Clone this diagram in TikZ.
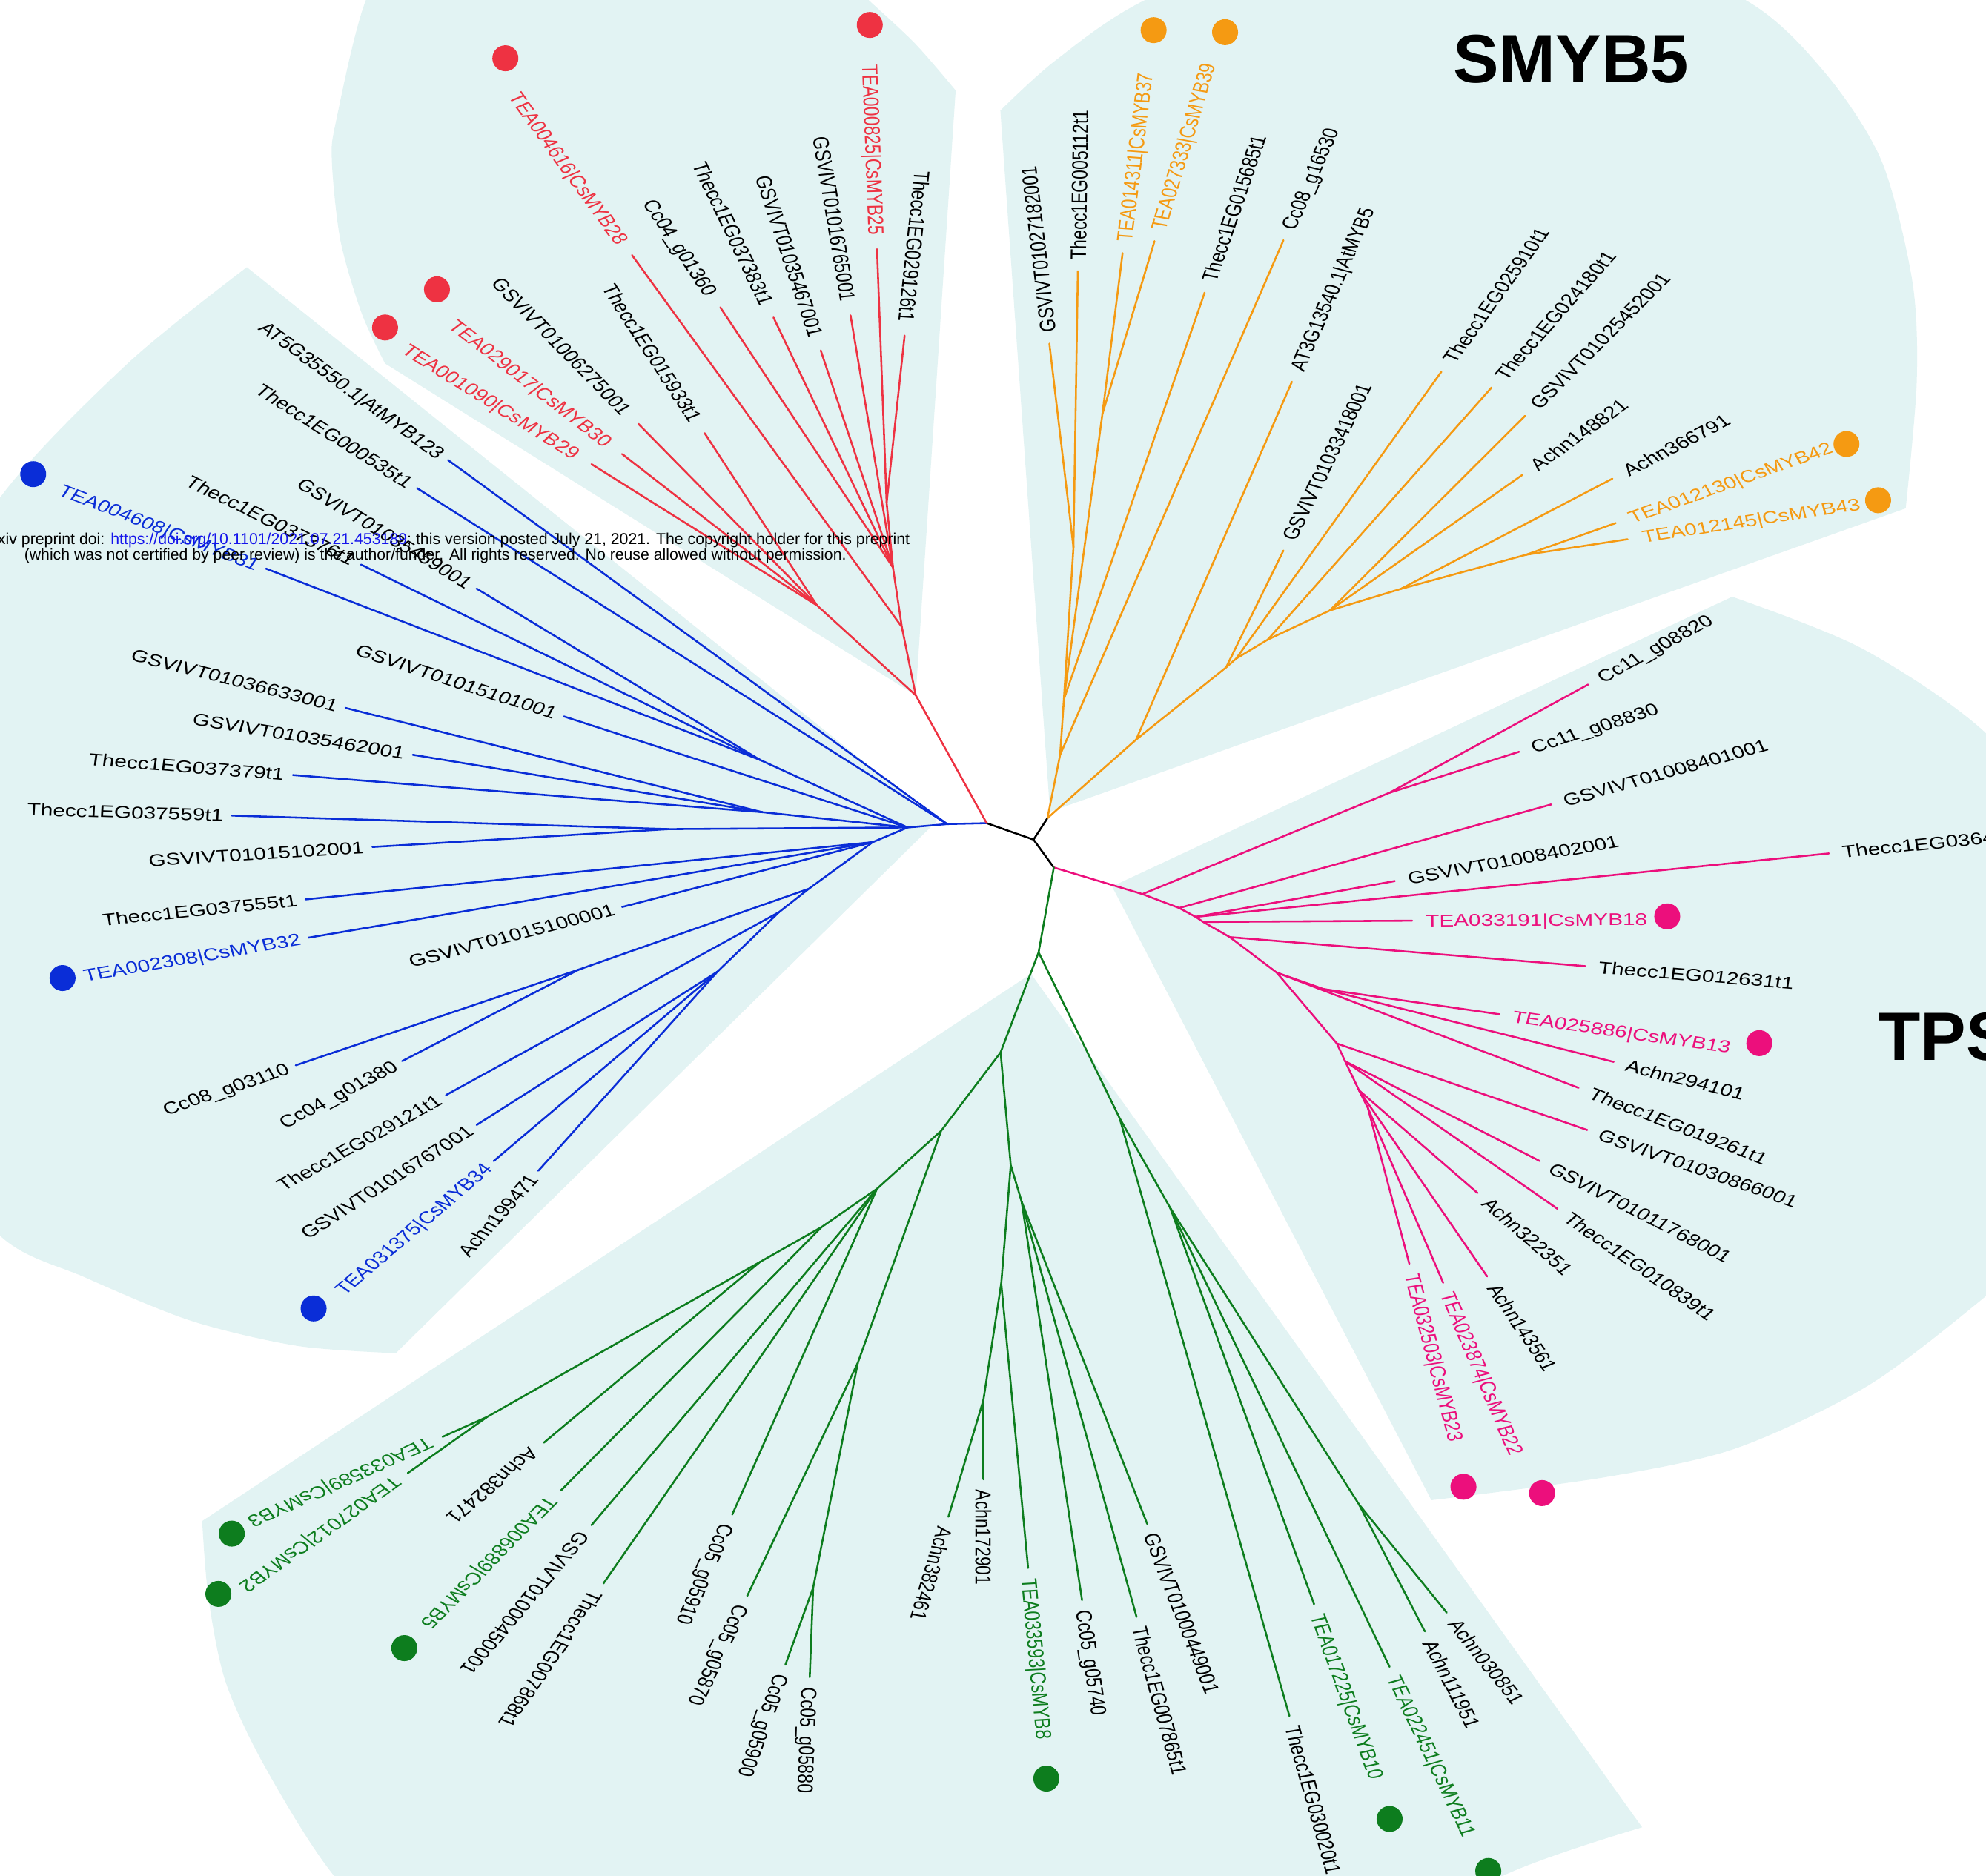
\documentclass[tikz,border=0pt]{standalone}
\usepackage{fontspec}
\usetikzlibrary{calc}
\setmainfont{Liberation Sans}
\definecolor{bgc}{RGB}{226,243,243}
\definecolor{cred}{RGB}{238,50,66}
\definecolor{cblue}{RGB}{10,45,215}
\definecolor{corange}{RGB}{245,154,18}
\definecolor{cpink}{RGB}{236,15,124}
\definecolor{cgreen}{RGB}{13,125,30}
\definecolor{wblue}{RGB}{20,20,235}
\newcommand\kx{1.3}
\newcommand\gp{6pt}
\newcommand\lf{\fontsize{13.4}{16}\selectfont}
\newcommand\tf{\fontsize{54}{54}\selectfont\bfseries}
\newcommand\wf{\fontsize{11.6}{13}\selectfont}
\newcommand\cR[1]{\textcolor{cred}{#1}}
\newcommand\cB[1]{\textcolor{cblue}{#1}}
\newcommand\cO[1]{\textcolor{corange}{#1}}
\newcommand\cP[1]{\textcolor{cpink}{#1}}
\newcommand\cG[1]{\textcolor{cgreen}{#1}}
\newcommand\leafr[5]{\coordinate (#3) at (#4); \draw[br,#1] (#2) -- (#3);
  \path let \p1=(#2), \p2=(#3), \n1={atan2(\y2-\y1,(\x2-\x1)/\kx)} in
    node[lab, inner xsep=\gp, anchor=west, xscale=\kx, rotate=\n1] (t#3) at (#3) {#5};}
\newcommand\leafl[5]{\coordinate (#3) at (#4); \draw[br,#1] (#2) -- (#3);
  \path let \p1=(#2), \p2=(#3), \n1={atan2(\y2-\y1,(\x2-\x1)/\kx)} in
    node[lab, inner xsep=\gp, anchor=east, xscale=\kx, rotate=\n1+180] (t#3) at (#3) {#5};}
\tikzset{
  br/.style={line width=1.5pt, line cap=round, line join=round},
  lab/.style={text=black, font=\lf, inner ysep=0pt, text height=9.6pt, text depth=0pt},
  dot/.style={circle, inner sep=0pt, minimum size=20.5pt},
}
\begin{document}
\begin{tikzpicture}[x=1pt,y=-1pt]
\useasboundingbox (0,0) rectangle (1568,1481);
\clip (0,0) rectangle (1568,1481);
% ---------- shaded clade wedges ----------
\fill[bgc] (740,648) -- plot[smooth] coordinates {(194.9,211) (100.8,287) (0,393) (-70,520) (-100,700) (-70,880) (0,975.7) (67,1008.6) (151,1043) (235,1062.8) (312.5,1068.5)} -- cycle;
\fill[bgc] (723,549) -- plot[smooth] coordinates {(304,287) (285.6,247.5) (268.8,190) (262,127) (265.4,95.2) (288.9,0) (330,-70) (480,-120) (630,-50) (685.7,0) (723,35) (754.5,71.4)} -- cycle;
\fill[bgc] (829,641) -- plot[smooth] coordinates {(789.8,87.3) (833.5,47.6) (904,0) (1050,-60) (1250,-50) (1378,0) (1440.5,57) (1485.5,127) (1509.8,222) (1513.3,301.4) (1504.6,401.4)} -- cycle;
\fill[bgc] (878,700) -- plot[smooth] coordinates {(1367.6,471.2) (1470,512) (1568,579) (1650,680) (1680,820) (1640,960) (1568,1023.4) (1475.1,1094) (1371,1143.5) (1267,1166.5) (1130.1,1184.6)} -- cycle;
\fill[bgc] (814,769) -- plot[smooth] coordinates {(159.6,1201.1) (164.6,1261.9) (178,1327.7) (208.3,1393.5) (262,1479) (340,1560) (700,1640) (1060,1555) (1187,1481) (1296.5,1442.9)} -- cycle;
% ---------- root ----------
\coordinate (A) at (779,650);
\coordinate (B) at (816,663);
\coordinate (C) at (827,646);
\coordinate (D) at (832,685);
\draw[br,black] (A)--(B) (B)--(C) (B)--(D);
% ---------- blue clade ----------
\renewcommand\gp{5pt}
\coordinate (B1) at (747.8,650.7);
\coordinate (B2) at (716.6,653.4);
\coordinate (Bn) at (600,600);
\coordinate (Bm) at (601.7,641.3);
\coordinate (Bq) at (528,654.7);
\coordinate (B3) at (689,665);
\coordinate (B4) at (638.6,701.8);
\coordinate (B5) at (457,765.6);
\coordinate (B6) at (615,720.3);
\coordinate (B7) at (566.4,767.3);
\draw[br,cblue] (A)--(B1) (B1)--(B2) (B2)--(Bn) (B2)--(Bm) (B2)--(Bq) (B2)--(B3) (B3)--(B4) (B4)--(B5) (B4)--(B6) (B6)--(B7);
\leafl{cblue}{B1}{bA}{353.8,363.3}{AT5G35550.1|AtMYB123}
\leafl{cblue}{B1}{bB}{329.3,385.5}{Thecc1EG000535t1}
\leafl{cblue}{Bn}{bC}{376.3,464.8}{GSVIVT01035459001}
\leafl{cblue}{Bn}{bD}{285,445.8}{Thecc1EG037376t1}
\leafl{cblue}{Bn}{bE}{210,449}{\cB{TEA004608|CsMYB31}}
\leafl{cblue}{B2}{bF}{445.2,565.7}{GSVIVT01015101001}
\leafl{cblue}{Bm}{bG}{272.8,559}{GSVIVT01036633001}
\leafl{cblue}{Bm}{bH}{325.9,596}{GSVIVT01035462001}
\leafl{cblue}{Bm}{bI}{231.2,612}{Thecc1EG037379t1}
\leafl{cblue}{Bq}{bJ}{183.1,644}{Thecc1EG037559t1}
\leafl{cblue}{Bq}{bK}{294,668.8}{GSVIVT01015102001}
\leafl{cblue}{B3}{bL}{241.2,710.2}{Thecc1EG037555t1}
\leafl{cblue}{B3}{bM}{243.6,740.4}{\cB{TEA002308|CsMYB32}}
\leafl{cblue}{B3}{bN}{491.2,716.2}{GSVIVT01015100001}
\leafl{cblue}{B5}{bO}{233.5,841.2}{Cc08\_g03110}
\leafl{cblue}{B5}{bP}{317.5,837.9}{Cc04\_g01380}
\leafl{cblue}{B6}{bQ}{352.1,864.7}{Thecc1EG029121t1}
\leafl{cblue}{B7}{bR}{376.3,888.3}{GSVIVT01016767001}
\leafl{cblue}{B7}{bS}{389.8,916.8}{\cB{TEA031375|CsMYB34}}
\leafl{cblue}{B7}{bT}{425,924.5}{Achn199471}
% ---------- red clade ----------
\renewcommand\gp{11pt}
\coordinate (R1) at (723,549);
\coordinate (Ra) at (645,478);
\coordinate (Rb) at (712,495);
\coordinate (Re) at (705,448);
\coordinate (R4) at (700,397);
\draw[br,cred] (A)--(R1) (R1)--(Ra) (R1)--(Rb) (Rb)--(Re) (Re)--(R4);
\leafl{cred}{Ra}{rA}{491.2,358.5}{\cR{TEA029017|CsMYB30}}
\leafl{cred}{Ra}{rB}{467,366.5}{\cR{TEA001090|CsMYB29}}
\leafl{cred}{Ra}{rC}{504,334.7}{GSVIVT01006275001}
\leafl{cred}{Ra}{rD}{556.3,342}{Thecc1EG015933t1}
\leafl{cred}{Rb}{rE}{499,201.5}{\cR{TEA004616|CsMYB28}}
\leafl{cred}{Re}{rF}{568.7,242.7}{Cc04\_g01360}
\leafl{cred}{Re}{rG}{610.7,250.7}{Thecc1EG037383t1}
\leafl{cred}{Re}{rH}{648,276.7}{GSVIVT01035467001}
\leafl{cred}{Re}{rI}{671.5,249}{GSVIVT01016765001}
\leafl{cred}{R4}{rJ}{692.4,196.7}{\cR{TEA000825|CsMYB25}}
\leafl{cred}{R4}{rK}{714.2,265}{Thecc1EG029126t1}
% ---------- orange clade ----------
\renewcommand\gp{9pt}
\coordinate (Oa) at (837,596);
\coordinate (Ob) at (897,584);
\coordinate (Oc) at (840,552);
\coordinate (Ogt) at (847.5,432);
\coordinate (Ott) at (870.4,326.8);
\coordinate (Oe) at (968,527);
\coordinate (Of) at (976,520);
\coordinate (Og) at (1001,505);
\coordinate (Og2) at (1050,482);
\coordinate (Oh) at (1106,465);
\coordinate (Oi) at (1205,438);
\draw[br,corange] (C)--(Oa) (C)--(Ob) (Oa)--(Oc) (Oc)--(Ogt) (Oc)--(Ott) (Ob)--(Oe) (Oe)--(Of) (Of)--(Og) (Og)--(Og2) (Og2)--(Oh) (Oh)--(Oi);
\leafr{corange}{Ogt}{oA}{828.5,271.3}{GSVIVT01027182001}
\leafr{corange}{Ogt}{oB}{851,214.2}{Thecc1EG005112t1}
\leafr{corange}{Ott}{oC}{886.3,199.9}{\cO{TEA014311|CsMYB37}}
\leafr{corange}{Ott}{oD}{911.5,190.4}{\cO{TEA027333|CsMYB39}}
\leafr{corange}{Oc}{oE}{951.1,231}{Thecc1EG015685t1}
\leafr{corange}{Oa}{oF}{1013.3,189.7}{Cc08\_g16530}
\leafr{corange}{Ob}{oG}{1020,301.4}{AT3G13540.1|AtMYB5}
\leafr{corange}{Oe}{oH}{1013.3,434.7}{GSVIVT01033418001}
\leafr{corange}{Of}{oI}{1138,293.5}{Thecc1EG025910t1}
\leafr{corange}{Og}{oJ}{1177.6,306}{Thecc1EG024180t1}
\leafr{corange}{Og2}{oK}{1204,328.4}{GSVIVT01025452001}
\leafr{corange}{Og2}{oL}{1201.9,375}{Achn148821}
\leafr{corange}{Oh}{oM}{1273,378}{Achn366791}
\leafr{corange}{Oi}{oN}{1275.7,413}{\cO{TEA012130|CsMYB42}}
\leafr{corange}{Oi}{oP}{1285,425.8}{\cO{TEA012145|CsMYB43}}
% ---------- pink clade ----------
\renewcommand\gp{8pt}
\coordinate (M1) at (902,706);
\coordinate (Mc) at (1097,626);
\coordinate (M2) at (931,717);
\coordinate (M3) at (944,724);
\coordinate (M3b) at (950,728);
\coordinate (M4) at (971,740);
\coordinate (M5) at (1008,768);
\coordinate (M5a) at (1045,781);
\coordinate (M6) at (1055.5,824);
\coordinate (M6b) at (1062,838);
\coordinate (M7) at (1073,861);
\coordinate (M8) at (1080,875);
\draw[br,cpink] (D)--(M1) (M1)--(Mc) (M1)--(M2) (M2)--(M3) (M3)--(M3b) (M3b)--(M4) (M4)--(M5) (M5)--(M5a) (M5)--(M6) (M6)--(M6b) (M6b)--(M7) (M7)--(M8);
\leafr{cpink}{Mc}{mA}{1253.9,540.5}{Cc11\_g08820}
\leafr{cpink}{Mc}{mB}{1199.4,593.6}{Cc11\_g08830}
\leafr{cpink}{M2}{mC}{1224.7,635.2}{GSVIVT01008401001}
\leafr{cpink}{M3}{mD}{1101.3,695.7}{GSVIVT01008402001}
\leafr{cpink}{M3}{mE}{1444,673.9}{Thecc1EG0364}
\leafr{cpink}{M3b}{mF}{1115,727}{\cP{TEA033191|CsMYB18}}
\leafr{cpink}{M4}{mG}{1251.5,762.9}{Thecc1EG012631t1}
\leafr{cpink}{M5a}{mH}{1183.8,800.9}{\cP{TEA025886|CsMYB13}}
\leafr{cpink}{M5a}{mI}{1274,838.5}{Achn294101}
\leafr{cpink}{M5}{mJ}{1246.3,859}{Thecc1EG019261t1}
\leafr{cpink}{M6}{mK}{1253.2,892.3}{GSVIVT01030866001}
\leafr{cpink}{M6b}{mL}{1215.7,916.8}{GSVIVT01011768001}
\leafr{cpink}{M6b}{mM}{1229.6,954.5}{Thecc1EG010839t1}
\leafr{cpink}{M7}{mN}{1166.5,942}{Achn322351}
\leafr{cpink}{M7}{mO}{1174.1,1007.9}{Achn143561}
\leafr{cpink}{M8}{mP}{1139.4,1012.9}{\cP{TEA023874|CsMYB22}}
\leafr{cpink}{M8}{mQ}{1112.7,998}{\cP{TEA032503|CsMYB23}}
% ---------- green clade ----------
\renewcommand\gp{8pt}
\coordinate (G0) at (820,752);
\coordinate (GL1) at (790,831);
\coordinate (GR1) at (884,883);
\coordinate (GL2) at (743,893);
\coordinate (GM1) at (798,920);
\coordinate (GL3) at (692.4,938.7);
\coordinate (GL5) at (677.3,1076);
\coordinate (GL6) at (642,1253.7);
\coordinate (GL7) at (648.7,968.9);
\coordinate (GL8) at (600,996.5);
\coordinate (Gp) at (384.7,1118.8);
\coordinate (GM2) at (806.6,948.8);
\coordinate (GM4) at (790.5,1013.5);
\coordinate (GM5) at (776.4,1105.6);
\coordinate (GR2) at (924,954);
\coordinate (GR3) at (1073,1188);
\draw[br,cgreen] (D)--(G0) (G0)--(GL1) (G0)--(GR1) (GL1)--(GL2) (GL1)--(GM1) (GL2)--(GL3) (GL2)--(GL5) (GL5)--(GL6) (GL3)--(GL7) (GL7)--(GL8) (GL8)--(Gp) (GM1)--(GM2) (GM1)--(GM4) (GM4)--(GM5) (GR1)--(GR2) (GR2)--(GR3);
\leafr{cgreen}{Gp}{gA}{349.4,1134.6}{\cG{TEA033589|CsMYB3}}
\leafr{cgreen}{Gp}{gB}{321.9,1163.2}{\cG{TEA027012|CsMYB2}}
\leafr{cgreen}{GL8}{gC}{429.4,1139.2}{Achn382471}
\leafr{cgreen}{GL7}{gD}{442.8,1177}{\cG{TEA006889|CsMYB5}}
\leafr{cgreen}{GL3}{gE}{467,1204.3}{GSVIVT01000450001}
\leafr{cgreen}{GL3}{gF}{476.4,1250.4}{Thecc1EG007868t1}
\leafr{cgreen}{GL3}{gG}{578.1,1196}{Cc05\_g05910}
\leafr{cgreen}{GL5}{gH}{589.9,1260.3}{Cc05\_g05870}
\leafr{cgreen}{GL6}{gI}{620.1,1314.5}{Cc05\_g05900}
\leafr{cgreen}{GL6}{gJ}{639.3,1324.4}{Cc05\_g05880}
\leafr{cgreen}{GM5}{gK}{748.8,1197.7}{Achn382461}
\leafr{cgreen}{GM5}{gL}{776.4,1168.1}{Achn172901}
\leafr{cgreen}{GM4}{gM}{811.7,1238.2}{\cG{TEA033593|CsMYB8}}
\leafr{cgreen}{GM2}{gN}{854.3,1263.6}{Cc05\_g05740}
\leafr{cgreen}{GM2}{gO}{897.3,1276.7}{Thecc1EG007865t1}
\leafr{cgreen}{GM2}{gP}{905.7,1203.3}{GSVIVT01000449001}
\leafr{cgreen}{GR1}{gQ}{1018,1355}{Thecc1EG030020t1}
\leafr{cgreen}{GR2}{gR}{1037.5,1266.8}{\cG{TEA017225|CsMYB10}}
\leafr{cgreen}{GR2}{gS}{1097.1,1316.2}{\cG{TEA022451|CsMYB11}}
\leafr{cgreen}{GR3}{gT}{1142.2,1273.4}{Achn030851}
\leafr{cgreen}{GR3}{gU}{1124.9,1288.2}{Achn111951}
% ---------- dots ----------
\node[dot,fill=cred] (dr1) at (399,46) {};
\node[dot,fill=cred] (dr2) at (686.7,19.7) {};
\node[dot,fill=cred] (dr3) at (345,228.5) {};
\node[dot,fill=cred] (dr4) at (304,258.6) {};
\node[dot,fill=cblue] (db1) at (26.2,374.4) {};
\node[dot,fill=cblue] (db2) at (49.4,772.3) {};
\node[dot,fill=cblue] (db3) at (247.6,1033.2) {};
\node[dot,fill=corange] (do1) at (910.8,23.8) {};
\node[dot,fill=corange] (do2) at (967.2,25.4) {};
\node[dot,fill=corange] (do3) at (1457.8,350.6) {};
\node[dot,fill=corange] (do4) at (1482.8,395) {};
\node[dot,fill=cpink] (dp1) at (1316.3,723.6) {};
\node[dot,fill=cpink] (dp2) at (1389,823.7) {};
\node[dot,fill=cpink] (dp3) at (1217.5,1179) {};
\node[dot,fill=cpink] (dp4) at (1155.4,1174) {};
\node[dot,fill=cgreen] (dg1) at (183,1211) {};
\node[dot,fill=cgreen] (dg2) at (172.4,1258.6) {};
\node[dot,fill=cgreen] (dg3) at (319.2,1301.4) {};
\node[dot,fill=cgreen] (dg4) at (826.1,1404.4) {};
\node[dot,fill=cgreen] (dg5) at (1097.1,1436.3) {};
\node[dot,fill=cgreen] (dg6) at (1175,1477.4) {};
% ---------- titles ----------
\node[anchor=base west, inner sep=0pt, font=\tf] (ttl1) at (1147,65) {SMYB5};
\node[anchor=base west, inner sep=0pt, font=\tf] (ttl2) at (1483,837) {TPS};
% ---------- watermark ----------
\node[anchor=base east, inner sep=0pt, font=\wf] (wm1) at (718.5,430) {\resizebox{720pt}{!}{xiv preprint doi: \textcolor{wblue}{https://doi.org/10.1101/2021.07.21.453189}; this version posted July 21, 2021. The copyright holder for this preprint}};
\node[anchor=base west, inner sep=0pt, font=\wf] (wm2) at (19,442) {\resizebox{649pt}{!}{(which was not certified by peer review) is the author/funder. All rights reserved. No reuse allowed without permission.}};
\end{tikzpicture}
\end{document}
